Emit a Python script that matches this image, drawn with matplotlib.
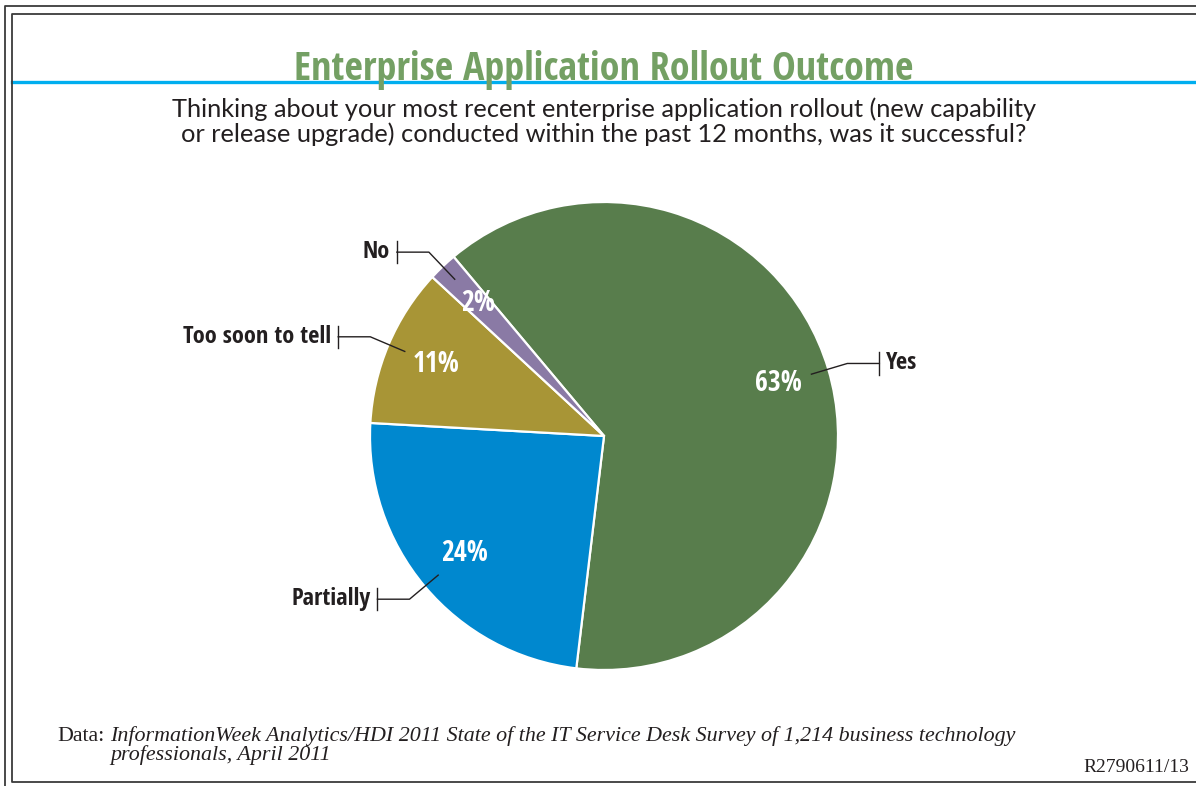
import numpy as np
import matplotlib.pyplot as plt

# survey answers, clockwise from the top-left
labels = ['Yes', 'Partially', 'Too soon to tell', 'No']
shares = [63, 24, 11, 2]
colors = ['#587d4c', '#0088cf', '#a89536', '#8a7aa5']

title = 'Enterprise Application Rollout Outcome'
question = ['Thinking about your most recent enterprise application rollout (new capability',
            'or release upgrade) conducted within the past 12 months, was it successful?']
source = ['InformationWeek Analytics/HDI 2011 State of the IT Service Desk Survey of 1,214 business technology',
          'professionals, April 2011']
ref_code = 'R2790611/13'

COND = ['Open Sans Condensed', 'DejaVu Sans']
SERIF = ['Liberation Serif', 'DejaVu Serif']
INK = '#231f20'

W, H = 1196, 786
fig = plt.figure(figsize=(W / 100, H / 100), dpi=100)

# pixel-space layer for frame, headings and footer
bg = fig.add_axes([0, 0, 1, 1])
bg.set_xlim(0, W)
bg.set_ylim(H, 0)
bg.axis('off')

frame = '#3a3a3a'
bg.plot([5, 5, W + 10], [H + 10, 6, 6], color=frame, lw=1.3)
bg.plot([W + 10, 12, 12, W + 10], [14, 14, 782, 782], color=frame, lw=1.3)
bg.plot([12, W + 10], [81.5, 81.5], color='#00aeef', lw=2.4, zorder=1)

bg.text(604, 80, title, family=COND, weight='bold', fontsize=28.8,
        color='#74a064', ha='center', va='baseline', zorder=3)
for line, base in zip(question, [117, 142]):
    bg.text(604, base, line, family=['Lato', 'DejaVu Sans'], fontsize=18.3,
            color=INK, ha='center', va='baseline')

bg.text(57, 741, 'Data:', family=SERIF, fontsize=15.8, color=INK, va='baseline')
bg.text(110, 741, source[0], family=SERIF, style='italic', fontsize=15.8,
        color=INK, va='baseline')
bg.text(110, 760, source[1], family=SERIF, style='italic', fontsize=15.8,
        color=INK, va='baseline')
bg.text(1189, 772, ref_code, family=SERIF, fontsize=14, color=INK,
        ha='right', va='baseline')

# pie
cx, cy, r = 604, 436, 234
ax = fig.add_axes([(cx - r) / W, (H - cy - r) / H, 2 * r / W, 2 * r / H])
wedges, texts, autotexts = ax.pie(
    shares, colors=colors, startangle=130, counterclock=False,
    autopct=lambda p: f'{p:.0f}%', pctdistance=0.78,
    wedgeprops=dict(edgecolor='white', linewidth=1.6),
    textprops=dict(family=COND, weight='bold', fontsize=20, color='white'))
ax.set_xlim(-1, 1)
ax.set_ylim(-1, 1)
ax.set_aspect('equal')
ax.axis('off')

# leader lines with end ticks
for w, lab in zip(wedges, labels):
    mid = np.deg2rad((w.theta1 + w.theta2) / 2)
    c, s = np.cos(mid), np.sin(mid)
    side = 1 if c > 0 else -1
    x0, y0 = 0.925 * c, 0.925 * s
    x1, y1 = 1.085 * c, 1.085 * s
    x2 = x1 + side * 0.137
    ax.plot([x0, x1, x2], [y0, y1, y1], color=INK, lw=1.0, clip_on=False)
    ax.plot([x2, x2], [y1 - 0.048, y1 + 0.048], color=INK, lw=1.0, clip_on=False)
    ax.text(x2 + side * 0.03, y1, lab, family=COND, weight='bold', fontsize=17.6,
            color=INK, ha='left' if side > 0 else 'right', va='center')

fig.savefig('out.png', dpi=100)
